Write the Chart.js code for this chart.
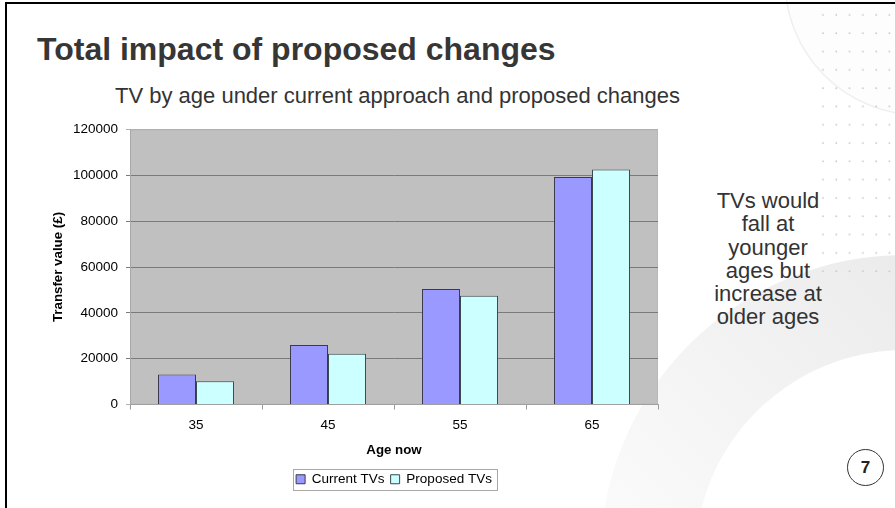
<!DOCTYPE html>
<html>
<head>
<meta charset="utf-8">
<script src="https://cdn.jsdelivr.net/npm/chart.js@4.4.0/dist/chart.umd.min.js"></script>
<style>
  html, body { margin: 0; padding: 0; background: #fff; }
  #slide { position: relative; width: 895px; height: 508px; overflow: hidden; font-family: 'Liberation Sans', Arial, sans-serif; color: #333; }
  #bg { position: absolute; left: 0; top: 0; }
  #frame { position: absolute; left: 5px; top: 2px; width: 900px; height: 520px; border-left: 2.5px solid #000; border-top: 2px solid #000; }
  .txt { position: absolute; white-space: nowrap; }
  #title { left: 37px; top: 33px; font-size: 32px; line-height: 32px; font-weight: bold; color: #363636; }
  #subtitle { left: 115px; top: 85px; font-size: 22px; line-height: 22px; color: #333; }
  #note { left: 668px; top: 189px; width: 200px; text-align: center; font-size: 22px; line-height: 23.3px; color: #333; }
  #pagenum { position: absolute; left: 847px; top: 449px; width: 35px; height: 35px; border: 1.5px solid #333; border-radius: 50%; text-align: center; line-height: 35px; font-size: 17px; font-weight: bold; color: #222; }
  #chart { position: absolute; left: 0; top: 0; }
</style>
</head>
<body>
<div id="slide">
  <svg id="bg" width="895" height="508">
    <defs>
      <linearGradient id="ringGrad" x1="1" y1="0" x2="0" y2="1">
        <stop offset="0" stop-color="#ebebeb"/>
        <stop offset="1" stop-color="#fcfcfc"/>
      </linearGradient>
      <pattern id="dots" x="818" y="8" width="13.3" height="18.3" patternUnits="userSpaceOnUse">
        <circle cx="5" cy="7" r="0.9" fill="#c8c8c8"/>
      </pattern>
    </defs>
    <circle cx="920" cy="-20" r="135" fill="#fdfdfd" stroke="#efefef" stroke-width="1.5"/>
    <path d="M 905 255 A 305 305 0 0 0 600 560 L 695 560 A 210 210 0 0 1 905 350 Z" fill="url(#ringGrad)"/>
    <rect x="818" y="8" width="77" height="268" fill="url(#dots)"/>
  </svg>
  <div id="frame"></div>
  <div id="title" class="txt">Total impact of proposed changes</div>
  <div id="subtitle" class="txt">TV by age under current approach and proposed changes</div>
  <div id="note" class="txt">TVs would<br>fall at<br>younger<br>ages but<br>increase at<br>older ages</div>
  <div id="pagenum">7</div>
  <canvas id="chart" width="895" height="508"></canvas>
</div>
<script>
// Datos
const ages = ['35', '45', '55', '65'];
const currentTVs = [13100, 26000, 50400, 99300];
const proposedTVs = [10200, 22100, 47500, 102500];
const seriesNames = ['Current TVs', 'Proposed TVs'];
const yMax = 120000;
const yStep = 20000;

const FONT = "'Liberation Sans', Arial, sans-serif";
Chart.defaults.font.family = FONT;
Chart.defaults.color = '#000';

// Fondo gris del área de trazado
const plotBackground = {
    id: 'plotBackground',
    beforeDraw(chart) {
        const { ctx, chartArea: a } = chart;
        ctx.save();
        ctx.fillStyle = '#c0c0c0';
        ctx.fillRect(a.left, a.top, a.right - a.left, a.bottom - a.top);
        ctx.strokeStyle = '#b8b8b8';
        ctx.lineWidth = 1;
        ctx.strokeRect(a.left + 0.5, a.top + 0.5, a.right - a.left - 1, a.bottom - a.top - 1);
        ctx.restore();
    }
};

// Marco alrededor de la leyenda
const legendFrame = {
    id: 'legendFrame',
    afterDraw(chart) {
        const boxes = chart.legend.legendHitBoxes;
        if (!boxes || !boxes.length) return;
        const first = boxes[0], last = boxes[boxes.length - 1];
        const ctx = chart.ctx;
        ctx.save();
        ctx.strokeStyle = '#a8a8a8';
        ctx.lineWidth = 1;
        const left = Math.round(first.left - 3) + 0.5;
        const right = Math.round(last.left + last.width + 5) + 0.5;
        const top = Math.round(first.top - 4) + 0.5;
        const bottom = Math.round(first.top + first.height + 4) + 0.5;
        ctx.strokeRect(left, top, right - left, bottom - top);
        ctx.restore();
    }
};

new Chart(document.getElementById('chart'), {
    type: 'bar',
    data: {
        labels: ages,
        datasets: [{
            label: seriesNames[0],
            data: currentTVs,
            backgroundColor: '#9999ff',
            borderColor: '#3a3a4a',
            borderWidth: 1
        }, {
            label: seriesNames[1],
            data: proposedTVs,
            backgroundColor: '#ccffff',
            borderColor: '#3a4a4a',
            borderWidth: 1
        }]
    },
    options: {
        responsive: false,
        animation: false,
        events: [],
        categoryPercentage: 0.576,
        barPercentage: 1,
        layout: { padding: { left: 40, top: 129.5, right: 237, bottom: 12 } },
        plugins: {
            legend: {
                position: 'bottom',
                fullSize: false,
                labels: { boxWidth: 9, boxHeight: 9, padding: 6, font: { size: 13.5 }, color: '#000' }
            },
            tooltip: { enabled: false }
        },
        scales: {
            x: {
                grid: { drawOnChartArea: false, drawTicks: true, tickLength: 5, color: '#999' },
                border: { color: '#a0a0a0' },
                ticks: { padding: 8, font: { size: 13.5 }, color: '#000' },
                title: { display: true, text: 'Age now', font: { size: 13.3, weight: 'bold' }, color: '#000', padding: { top: 0, bottom: 8 } },
                afterFit(scale) { scale.height = 62; }
            },
            y: {
                min: 0,
                max: yMax,
                grid: {
                    tickLength: 4,
                    color: ctx => (ctx.tick && (ctx.tick.value === 0 || ctx.tick.value === yMax)) ? '#b0b0b0' : '#7a7a7a'
                },
                border: { color: '#a8a8a8' },
                ticks: { stepSize: yStep, padding: 8, font: { size: 13.5 }, color: '#000', callback: v => String(v) },
                title: { display: true, text: 'Transfer value (£)', font: { size: 13.3, weight: 'bold' }, color: '#000', padding: { top: 10, bottom: 0 } },
                afterFit(scale) { scale.width = 90; }
            }
        }
    },
    plugins: [plotBackground, legendFrame]
});
</script>
</body>
</html>
